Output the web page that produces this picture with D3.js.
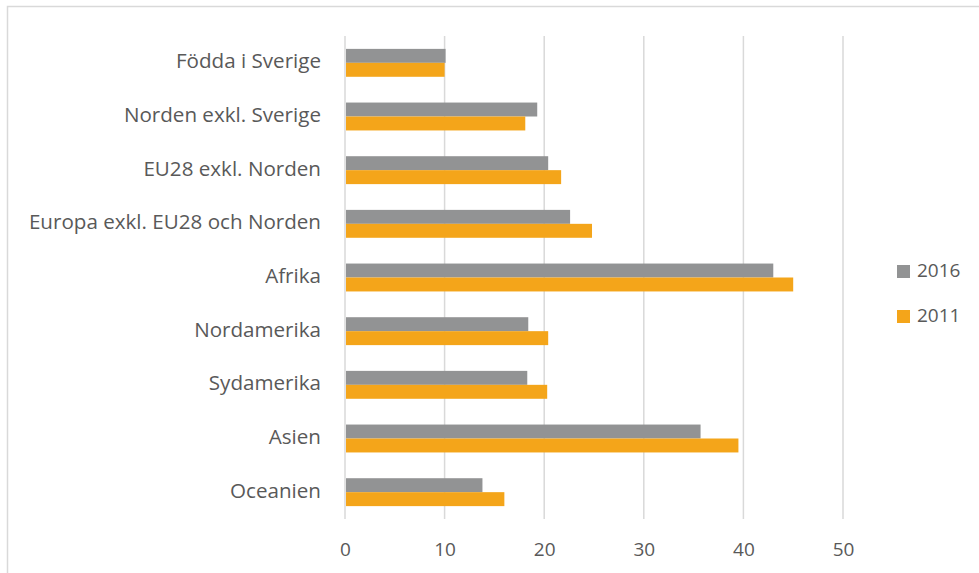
<!DOCTYPE html>
<html>
<head>
<meta charset="utf-8">
<script src="https://cdn.jsdelivr.net/npm/d3@7"></script>
<style>
  html, body { margin: 0; padding: 0; background: #fff; }
  svg { display: block; }
  text { font-family: "Open Sans", "Liberation Sans", sans-serif; fill: #595959; }
</style>
</head>
<body>
<svg id="chart" width="979" height="573"></svg>
<script>
// Regions of birth, top to bottom
const categories = [
  "Födda i Sverige",
  "Norden exkl. Sverige",
  "EU28 exkl. Norden",
  "Europa exkl. EU28 och Norden",
  "Afrika",
  "Nordamerika",
  "Sydamerika",
  "Asien",
  "Oceanien"
];
const seriesNames = ["2016", "2011"];
const values2016 = [10.1, 19.3, 20.4, 22.6, 43.0, 18.4, 18.3, 35.7, 13.8];
const values2011 = [10.0, 18.1, 21.7, 24.8, 45.0, 20.4, 20.3, 39.5, 16.0];
const xTicks = [0, 10, 20, 30, 40, 50];
const colors = { "2016": "#929394", "2011": "#F4A51A" };

const svg = d3.select("#chart");

// outer frame
svg.append("rect")
  .attr("x", 7.5).attr("y", 6.5)
  .attr("width", 1000).attr("height", 600)
  .attr("fill", "none").attr("stroke", "#d9d9d9").attr("stroke-width", 1.5);

const plot = { left: 345, right: 843, top: 36, bottom: 519 };

const x = d3.scaleLinear().domain([0, 50]).range([plot.left, plot.right]);
const y = d3.scaleBand().domain(categories).range([plot.top, plot.bottom]).paddingInner(0.48).paddingOuter(0.24);
const ySub = d3.scaleBand().domain(seriesNames).range([0, y.bandwidth()]);

// vertical gridlines
svg.append("g").selectAll("line").data(xTicks).join("line")
  .attr("x1", d => x(d)).attr("x2", d => x(d))
  .attr("y1", plot.top).attr("y2", plot.bottom)
  .attr("stroke", "#d9d9d9").attr("stroke-width", 1.5);

// bars
const rows = categories.map((c, i) => ({ cat: c, vals: [
  { s: "2016", v: values2016[i] },
  { s: "2011", v: values2011[i] }
]}));

const groups = svg.append("g").selectAll("g").data(rows).join("g")
  .attr("transform", d => `translate(0,${y(d.cat)})`);

groups.selectAll("rect").data(d => d.vals).join("rect")
  .attr("x", x(0) + 1)
  .attr("y", d => ySub(d.s))
  .attr("width", d => x(d.v) - x(0) - 1)
  .attr("height", ySub.bandwidth())
  .attr("fill", d => colors[d.s]);

// x axis labels
const xAxis = d3.axisBottom(x).tickValues(xTicks).tickSize(0).tickPadding(0);
const gx = svg.append("g").attr("transform", `translate(0,${plot.bottom})`).call(xAxis);
gx.select(".domain").remove();
gx.selectAll("text")
  .attr("dy", null).attr("y", 32).attr("dominant-baseline", "middle")
  .style("font-size", "19px").style("fill", "#595959")
  .style("font-family", "\"Open Sans\", sans-serif");

// category labels
const yAxis = d3.axisLeft(y).tickSize(0).tickPadding(0);
const gy = svg.append("g").attr("transform", `translate(321,0)`).call(yAxis);
gy.select(".domain").remove();
gy.selectAll("text")
  .attr("dy", null).attr("x", 0).attr("dominant-baseline", "middle")
  .style("font-size", "20.6px").style("fill", "#595959")
  .style("font-family", "\"Open Sans\", sans-serif");

// legend
const legend = svg.append("g").selectAll("g").data(seriesNames).join("g")
  .attr("transform", (d, i) => `translate(897,${272 + i * 45})`);
legend.append("rect")
  .attr("x", 0).attr("y", -7).attr("width", 13).attr("height", 13)
  .attr("fill", d => colors[d]);
legend.append("text")
  .attr("x", 20).attr("y", 0).attr("dominant-baseline", "middle")
  .style("font-size", "19px")
  .text(d => d);
</script>
</body>
</html>
